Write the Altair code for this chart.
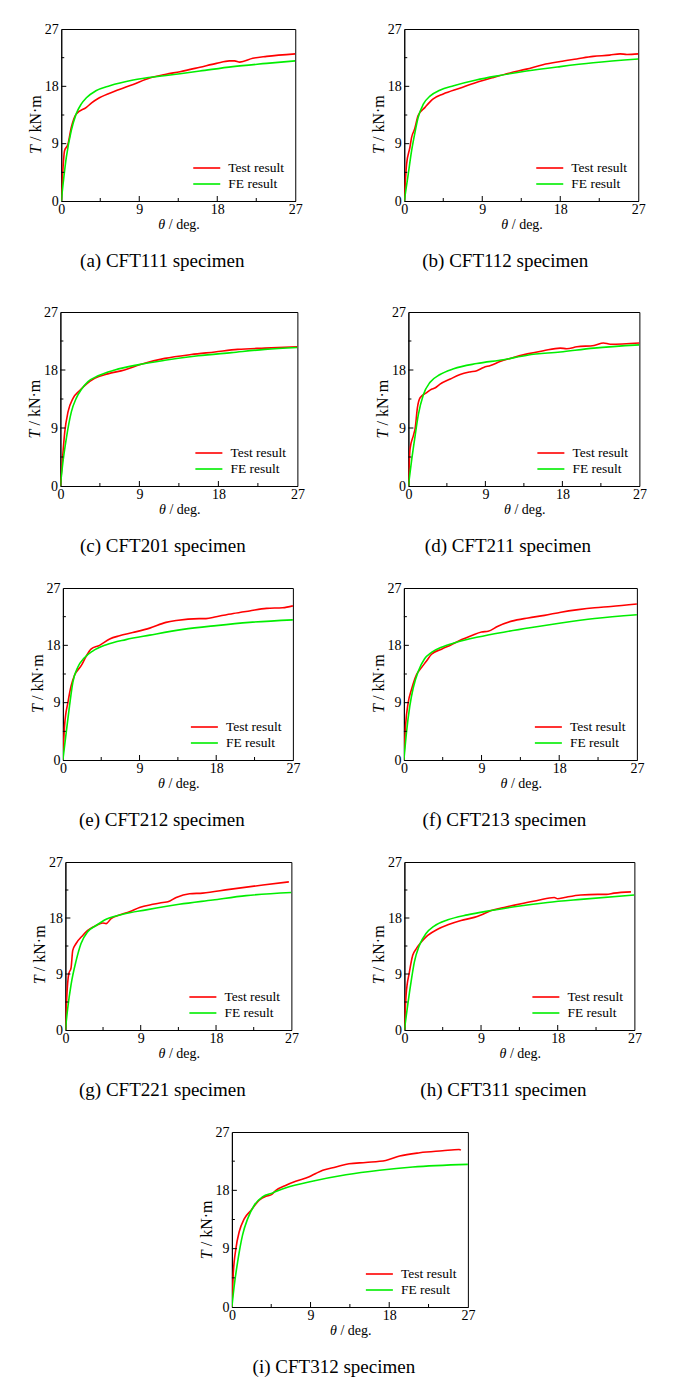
import altair as alt
import pandas as pd

FONT = "Liberation Serif"
SERIES = ["Test result", "FE result"]
COLORS = ["#ff0000", "#00ee00"]
TICKS = [0, 9, 18, 27]
MAJOR_IN = [9, 18]
MINOR_IN = [4.5, 13.5, 22.5]

CAPTIONS = ["(a) CFT111 specimen", "(b) CFT112 specimen", "(c) CFT201 specimen",
            "(d) CFT211 specimen", "(e) CFT212 specimen", "(f) CFT213 specimen",
            "(g) CFT221 specimen", "(h) CFT311 specimen", "(i) CFT312 specimen"]

A_TEST_THETA = [0, 0.15, 0.38, 0.77, 1.15, 1.7, 2.9, 3.5, 4.4, 6.3, 8.3, 10.2, 12.1, 13.7, 16, 17.9, 19.4, 20, 20.6, 22.1, 23.7, 27]
A_TEST_T = [0, 4.0, 7.9, 8.9, 11.5, 13.6, 14.7, 15.4, 16.2, 17.3, 18.3, 19.3, 19.9, 20.3, 21.0, 21.6, 22.0, 22.0, 21.8, 22.4, 22.7, 23.1]
A_FE_THETA = [0, 0.58, 1.15, 1.7, 2.3, 2.9, 4.0, 5.6, 8.3, 12.1, 16, 19.8, 23.7, 27]
A_FE_T = [0, 6.8, 11, 13.6, 15.2, 16.2, 17.3, 18.1, 19.0, 19.7, 20.4, 21.1, 21.6, 22.0]

B_TEST_THETA = [0, 0.27, 0.65, 0.85, 1.2, 1.6, 2.4, 3.3, 4.5, 6.4, 8.3, 10.3, 12.2, 14.1, 16, 18, 19.9, 21.8, 23.7, 24.9, 25.7, 27]
B_TEST_T = [0, 5.8, 8.4, 10, 11.3, 13.4, 14.7, 16, 16.8, 17.7, 18.6, 19.4, 20.1, 20.7, 21.4, 21.9, 22.3, 22.7, 22.9, 23.1, 23.0, 23.1]
B_FE_THETA = [0, 0.46, 0.85, 1.2, 1.6, 2.2, 3.0, 4.1, 5.7, 8.3, 11, 14.1, 18, 21.8, 27]
B_FE_T = [0, 4.2, 7.9, 10.5, 13.1, 15.2, 16.5, 17.4, 18.1, 19.0, 19.7, 20.4, 21.1, 21.7, 22.3]

C_TEST_THETA = [0, 0.19, 0.5, 0.87, 1.44, 2.2, 2.96, 3.9, 5.4, 7.3, 9.2, 11.9, 14.9, 17.6, 20.2, 23.3, 27]
C_TEST_T = [0, 3.3, 8.4, 11.5, 13.6, 14.8, 15.8, 16.7, 17.4, 18.0, 18.9, 19.8, 20.4, 20.8, 21.2, 21.4, 21.6]
C_FE_THETA = [0, 0.3, 0.68, 1.25, 1.8, 2.4, 3.15, 4.3, 6.2, 8.8, 11.9, 15.7, 19.5, 23.3, 27]
C_FE_T = [0, 3.8, 7.4, 11.5, 13.6, 15.0, 16.2, 17.1, 18.0, 18.8, 19.5, 20.2, 20.7, 21.2, 21.5]

D_TEST_THETA = [0, 0.2, 0.6, 0.8, 1.05, 1.37, 2.15, 2.7, 3.1, 3.7, 4.9, 6.05, 7.2, 8.0, 8.8, 9.6, 10.7, 11.9, 13.9, 15.8, 17.75, 18.5, 19.7, 21.7, 22.8, 23.6, 27]
D_TEST_T = [0, 5.8, 7.9, 9.0, 12.1, 13.7, 14.5, 15.0, 15.2, 15.8, 16.6, 17.3, 17.7, 17.9, 18.4, 18.7, 19.3, 19.8, 20.5, 21.0, 21.4, 21.3, 21.6, 21.8, 22.2, 22.0, 22.2]
D_FE_THETA = [0, 0.4, 0.8, 1.17, 1.76, 2.54, 3.7, 5.3, 8.0, 11.1, 13.9, 17.75, 21.7, 27]
D_FE_T = [0, 4.2, 7.9, 11.1, 14.2, 16.1, 17.3, 18.2, 19.0, 19.6, 20.3, 20.8, 21.4, 21.9]

E_TEST_THETA = [0, 0.2, 0.6, 0.98, 1.37, 2.15, 2.7, 3.3, 4.3, 5.5, 6.65, 8.2, 10.2, 12.1, 13.3, 16, 16.8, 18, 20, 21.9, 23.9, 25.8, 27]
E_TEST_T = [0, 5.4, 9.1, 11.7, 13.3, 14.8, 16.2, 17.4, 18.0, 19.0, 19.5, 20.0, 20.7, 21.6, 21.9, 22.2, 22.2, 22.5, 23.0, 23.4, 23.8, 23.9, 24.2]
E_FE_THETA = [0, 0.4, 0.78, 1.17, 1.76, 2.5, 3.5, 5.1, 7.4, 10.2, 14.1, 18, 21.9, 27]
E_FE_T = [0, 4.4, 8.5, 12.2, 14.6, 16.0, 17.1, 18.1, 18.9, 19.6, 20.5, 21.1, 21.6, 22.0]

F_TEST_THETA = [0, 0.19, 0.5, 0.89, 1.47, 2.04, 2.6, 3.2, 4.36, 5.5, 6.7, 7.8, 9.0, 9.76, 10.9, 12.5, 14.4, 16.3, 18.2, 20.2, 22.1, 24, 27]
F_TEST_T = [0, 5.3, 9.0, 11.1, 13.4, 14.5, 15.5, 16.6, 17.4, 18.1, 18.9, 19.5, 20.1, 20.2, 21.0, 21.8, 22.3, 22.7, 23.2, 23.6, 23.9, 24.1, 24.5]
F_FE_THETA = [0, 0.3, 0.69, 1.08, 1.66, 2.4, 3.2, 4.36, 5.9, 8.6, 11.7, 14.8, 18.2, 22.1, 27]
F_FE_T = [0, 4.3, 8.5, 11.3, 13.9, 15.9, 16.9, 17.7, 18.4, 19.3, 20.1, 20.8, 21.5, 22.2, 22.8]

G_TEST_THETA = [0, 0.16, 0.4, 0.68, 0.88, 1.28, 2.07, 2.67, 3.67, 4.47, 4.87, 5.46, 6.46, 7.66, 8.86, 10.45, 11.65, 12.25, 13.24, 14.84, 16.4, 19.6, 23.6, 26.7]
G_TEST_T = [0, 5.2, 9.0, 10.0, 12.8, 13.9, 15.2, 16.0, 16.8, 17.2, 17.1, 17.9, 18.5, 19.0, 19.7, 20.2, 20.5, 20.6, 21.3, 21.9, 22.0, 22.6, 23.3, 23.8]
G_FE_THETA = [0, 0.28, 0.68, 1.28, 1.87, 2.67, 3.67, 4.87, 6.86, 9.65, 13.6, 17.6, 21.6, 27]
G_FE_T = [0, 3.5, 7.3, 11.1, 13.9, 15.8, 16.8, 17.8, 18.6, 19.3, 20.2, 20.9, 21.6, 22.1]

H_TEST_THETA = [0, 0.2, 0.59, 0.98, 1.37, 1.96, 2.74, 3.9, 5.1, 6.65, 8.2, 9.0, 10.2, 11.7, 13.7, 15.6, 17.6, 18.0, 18.8, 20.7, 22.7, 23.7, 24.6, 26.6]
H_TEST_T = [0, 5.6, 9.3, 12.0, 13.0, 14.1, 15.2, 16.2, 16.9, 17.6, 18.1, 18.5, 19.2, 19.7, 20.3, 20.8, 21.3, 21.1, 21.3, 21.7, 21.8, 21.8, 22.0, 22.2]
H_FE_THETA = [0, 0.39, 0.78, 1.17, 1.76, 2.54, 3.5, 5.1, 7.4, 10.2, 12.9, 16.8, 20.7, 27]
H_FE_T = [0, 4.0, 7.7, 10.9, 13.6, 15.5, 16.7, 17.7, 18.5, 19.2, 19.8, 20.5, 21.0, 21.7]

I_TEST_THETA = [0, 0.15, 0.46, 0.84, 1.41, 2.18, 3.13, 3.9, 4.47, 5.04, 6.2, 7.3, 8.85, 9.6, 10.4, 11.9, 13.4, 15.3, 17.6, 19.2, 21.5, 24.1, 26.0, 26.2]
I_TEST_T = [0, 4.9, 9.0, 11.6, 13.6, 14.9, 16.5, 17.1, 17.3, 18.0, 18.8, 19.4, 20.1, 20.6, 21.1, 21.6, 22.1, 22.3, 22.6, 23.3, 23.8, 24.1, 24.3, 24.2]
I_FE_THETA = [0, 0.27, 0.65, 1.22, 1.8, 2.56, 3.5, 4.66, 6.2, 9.2, 13.05, 16.9, 20.7, 27]
I_FE_T = [0, 3.3, 6.9, 11.1, 13.6, 15.7, 17.0, 17.6, 18.4, 19.4, 20.4, 21.1, 21.6, 22.0]

AXIS_COMMON = dict(values=TICKS, ticks=False, tickSize=0, grid=False, title=None,
                   labelFont=FONT, labelFontSize=14, labelColor="black",
                   domainColor="black", labelFlush=False)
X_AXIS = alt.Axis(labelPadding=1, **AXIS_COMMON)
Y_AXIS = alt.Axis(labelPadding=3, **AXIS_COMMON)


def txt(value, x, y, size, align="left", italic=False, angle=0, baseline="alphabetic"):
    kw = dict(align=align, baseline=baseline, font=FONT, fontSize=size, color="black",
              text=value)
    if italic:
        kw["fontStyle"] = "italic"
    if angle:
        kw["angle"] = angle
    return alt.Chart(pd.DataFrame({"k": [0]})).mark_text(**kw).encode(
        x=alt.value(x), y=alt.value(y))


def panel(caption, tx, ty, fx, fy, w, h):
    df = pd.DataFrame({
        "theta": tx + fx,
        "T": ty + fy,
        "series": [SERIES[0]] * len(tx) + [SERIES[1]] * len(fx),
        "idx": list(range(len(tx))) + list(range(len(fx))),
    })
    xs = alt.Scale(domain=[0, 27], nice=False, zero=True)
    ys = alt.Scale(domain=[0, 27], nice=False, zero=True)
    cs = alt.Scale(domain=SERIES, range=COLORS)
    X = alt.X("theta:Q", scale=xs, axis=X_AXIS)
    Y = alt.Y("T:Q", scale=ys, axis=Y_AXIS)
    lines = alt.Chart(df).mark_line(strokeWidth=1.6, interpolate="monotone", clip=True).encode(
        x=X, y=Y,
        color=alt.Color("series:N", scale=cs, legend=None),
        order="idx:Q",
    )
    xmaj = alt.Chart(pd.DataFrame({"theta": MAJOR_IN})).mark_rule(color="black").encode(
        x=X, y=alt.value(h), y2=alt.value(h - 5))
    xmin = alt.Chart(pd.DataFrame({"theta": MINOR_IN})).mark_rule(color="black").encode(
        x=X, y=alt.value(h), y2=alt.value(h - 3))
    ymaj = alt.Chart(pd.DataFrame({"T": MAJOR_IN})).mark_rule(color="black").encode(
        y=Y, x=alt.value(0), x2=alt.value(5))
    ymin = alt.Chart(pd.DataFrame({"T": MINOR_IN})).mark_rule(color="black").encode(
        y=Y, x=alt.value(0), x2=alt.value(3))
    layers = [lines, xmaj, xmin, ymaj, ymin]
    for i, s in enumerate(SERIES):
        ldf = pd.DataFrame({"series": [s]})
        yy = h - 33 + 16 * i
        layers.append(alt.Chart(ldf).mark_rule(strokeWidth=1.6).encode(
            x=alt.value(w - 102), x2=alt.value(w - 75), y=alt.value(yy),
            color=alt.Color("series:N", scale=cs, legend=None)))
        layers.append(alt.Chart(ldf).mark_text(
            align="left", baseline="middle", font=FONT, fontSize=13.5, color="black").encode(
            x=alt.value(w - 67), y=alt.value(yy), text="series:N"))
    # axis titles: italic symbol + upright unit
    layers.append(txt("θ", w / 2 - 20, h + 28, 14, italic=True))
    layers.append(txt("/ deg.", w / 2 - 9.5, h + 28, 14))
    layers.append(txt("T", -20, h * 0.727, 16, italic=True, angle=270))
    layers.append(txt("/ kN·m", -20, h * 0.727 - 13, 16, angle=270))
    # caption
    layers.append(txt(caption, w / 2 - 16, h + 66, 19, align="center"))
    return alt.layer(*layers).properties(width=w, height=h)


pa = panel(CAPTIONS[0], A_TEST_THETA, A_TEST_T, A_FE_THETA, A_FE_T, 234, 172)
pb = panel(CAPTIONS[1], B_TEST_THETA, B_TEST_T, B_FE_THETA, B_FE_T, 234, 172)
pc = panel(CAPTIONS[2], C_TEST_THETA, C_TEST_T, C_FE_THETA, C_FE_T, 237, 174)
pd_ = panel(CAPTIONS[3], D_TEST_THETA, D_TEST_T, D_FE_THETA, D_FE_T, 231, 174)
pe = panel(CAPTIONS[4], E_TEST_THETA, E_TEST_T, E_FE_THETA, E_FE_T, 230, 172)
pf = panel(CAPTIONS[5], F_TEST_THETA, F_TEST_T, F_FE_THETA, F_FE_T, 233, 172)
pg = panel(CAPTIONS[6], G_TEST_THETA, G_TEST_T, G_FE_THETA, G_FE_T, 226, 168)
ph = panel(CAPTIONS[7], H_TEST_THETA, H_TEST_T, H_FE_THETA, H_FE_T, 230, 168)
pi = panel(CAPTIONS[8], I_TEST_THETA, I_TEST_T, I_FE_THETA, I_FE_T, 236, 175)

row1 = alt.hconcat(pa, pb, spacing=67)
row2 = alt.hconcat(pc, pd_, spacing=69)
row3 = alt.hconcat(pe, pf, spacing=69)
row4 = alt.hconcat(pg, ph, spacing=71)
inner = alt.vconcat(row2, row3, row4, pi, spacing=23, center=True)
chart = alt.vconcat(row1, inner, spacing=32, center=True).properties(
    padding={"left": 26, "top": 21, "right": 0, "bottom": 0},
    background="white",
).configure_view(stroke="black", strokeWidth=1)

chart.save("out.html", embed_options={"renderer": "svg", "actions": False})
